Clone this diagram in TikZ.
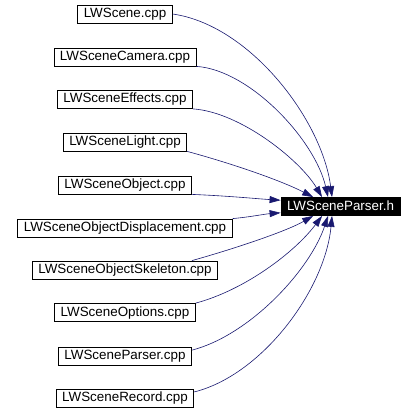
\documentclass[tikz,border=0pt]{standalone}
\usepackage{fontspec}
\setmainfont{Liberation Sans}
\usetikzlibrary{arrows.meta}
\definecolor{midnightblue}{RGB}{25,25,112}

\begin{document}
\begin{tikzpicture}[x=1pt,y=-1pt,
  file/.style={draw,rectangle,line width=0.8pt,inner xsep=6pt,inner ysep=0pt,minimum height=18pt,
    font=\fontsize{13.4}{16}\selectfont,text height=10pt,text depth=3pt},
  header/.style={file,fill=black,text=white},
  dep/.style={midnightblue,line width=0.6pt,-{Triangle[length=11pt,width=7pt]}}]
\def\xFile{125}
\useasboundingbox (0,0) rectangle (414,414);

\path
(\xFile,14) node [file] (scene) {LWScene.cpp}
(\xFile,57) node [file] (camera) {LWSceneCamera.cpp}
(\xFile,99.5) node [file] (effects) {LWSceneEffects.cpp}
(\xFile,142) node [file] (light) {LWSceneLight.cpp}
(\xFile,185) node [file] (object) {LWSceneObject.cpp}
(\xFile,228) node [file] (displ) {LWSceneObjectDisplacement.cpp}
(\xFile,270) node [file] (skel) {LWSceneObjectSkeleton.cpp}
(\xFile,312.5) node [file] (options) {LWSceneOptions.cpp}
(\xFile,356) node [file] (parsercpp) {LWSceneParser.cpp}
(\xFile,398) node [file] (record) {LWSceneRecord.cpp}
(340.5,206.5) node [header] (parser) {LWSceneParser.h}
;

% files above the header
\draw[dep] (scene.east) .. controls (250,25) and (322,120) .. (parser.132);
\draw[dep] (camera.south east) .. controls (250,70) and (315,140) .. (parser.143);
\draw[dep] (effects.south east) .. controls (240,112) and (300,160) .. (parser.153);
\draw[dep] (light.south east) .. controls (230,163) and (280,180) .. (parser.161);
\draw[dep] (object.south east) .. controls (230,196) and (260,199) .. (parser.174);
% files below the header
\draw[dep] (displ.north east) .. controls (250,217) and (265,214) .. (parser.186);
\draw[dep] (skel.8) .. controls (230,250) and (285,232) .. (parser.199);
\draw[dep] (options.north east) .. controls (245,290) and (295,252) .. (parser.207);
\draw[dep] (parsercpp.5) .. controls (250,335) and (310,270) .. (parser.217);
\draw[dep] (record.5) .. controls (262,375) and (325,290) .. (parser.228);
\end{tikzpicture}
\end{document}
